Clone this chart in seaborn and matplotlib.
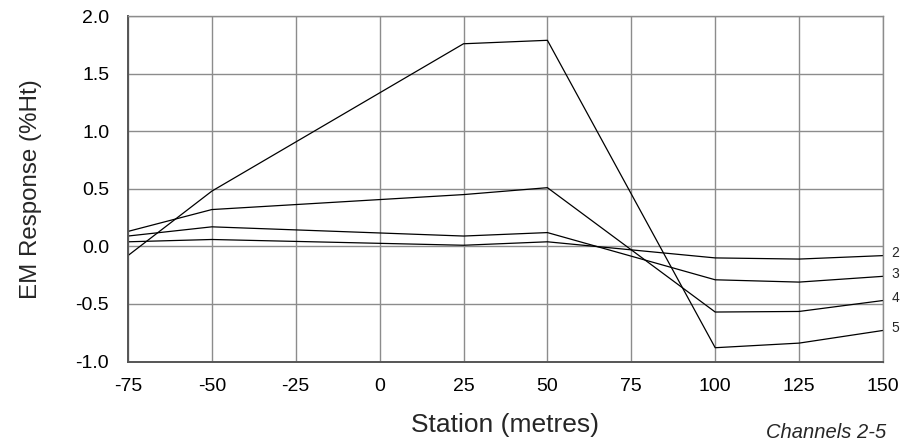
import pandas as pd
import numpy as np
import matplotlib
matplotlib.use('Agg')
import matplotlib.pyplot as plt
import seaborn as sns

# station positions along the line (metres)
stations = [-75, -50, 25, 50, 100, 125, 150]

# EM response (%Ht) per channel
ch2 = [0.04, 0.06, 0.01, 0.04, -0.10, -0.11, -0.08]
ch3 = [0.09, 0.17, 0.09, 0.12, -0.29, -0.31, -0.26]
ch4 = [0.13, 0.32, 0.45, 0.51, -0.57, -0.565, -0.47]
ch5 = [-0.08, 0.48, 1.76, 1.79, -0.88, -0.84, -0.73]

channels = ['2', '3', '4', '5']
xticks = [-75, -50, -25, 0, 25, 50, 75, 100, 125, 150]
yticks = [-1.0, -0.5, 0.0, 0.5, 1.0, 1.5, 2.0]

################################################################################################
df = pd.DataFrame({
    'station': stations * 4,
    'response': ch2 + ch3 + ch4 + ch5,
    'channel': [c for c in channels for _ in stations],
})

sns.set_theme(style='white')
plt.rcParams['font.family'] = ['Liberation Sans', 'DejaVu Sans']

grid_col = '#8c8c8c'
axis_col = '#555555'

fig = plt.figure(figsize=(9.01, 4.48), dpi=100)
ax = fig.add_axes([0.142, 0.193, 0.838, 0.771])

sns.lineplot(data=df, x='station', y='response', units='channel', estimator=None,
             color='black', lw=0.9, ax=ax, legend=False)

ax.set_xlim(-75, 150)
ax.set_ylim(-1.0, 2.0)
ax.set_xticks(xticks)
ax.set_yticks(yticks)
ax.set_xticklabels([str(t) for t in xticks])
ax.set_yticklabels([f'{t:.1f}' for t in yticks])
ax.grid(True, color=grid_col, lw=1.0)
ax.set_axisbelow(True)

# top / right edges look like ordinary grid lines
for side in ['top', 'right']:
    ax.spines[side].set_color(grid_col)
    ax.spines[side].set_linewidth(1.0)
for side in ['left', 'bottom']:
    ax.spines[side].set_color(axis_col)
    ax.spines[side].set_linewidth(1.4)

ax.tick_params(axis='both', direction='out', width=1.0, color=axis_col,
               labelsize=14, labelcolor='black')
ax.tick_params(axis='y', length=6.5, pad=7)
ax.tick_params(axis='x', length=5, pad=7)

ax.set_xlabel('Station (metres)', fontsize=19)
ax.set_ylabel('EM Response (%Ht)', fontsize=17.4)
ax.xaxis.set_label_coords(0.5, -0.150)
ax.yaxis.set_label_coords(-0.114, 0.5)

# channel labels at the right end of each line
for c, vals in zip(channels, [ch2, ch3, ch4, ch5]):
    ax.annotate(c, xy=(stations[-1], vals[-1]), xytext=(6, 2), textcoords='offset points',
                fontsize=10, ha='left', va='center', annotation_clip=False)

fig.text(0.984, 0.0223, 'Channels 2-5', fontsize=14.5, style='italic', ha='right', va='baseline')

plt.savefig('out.png', dpi=100)
